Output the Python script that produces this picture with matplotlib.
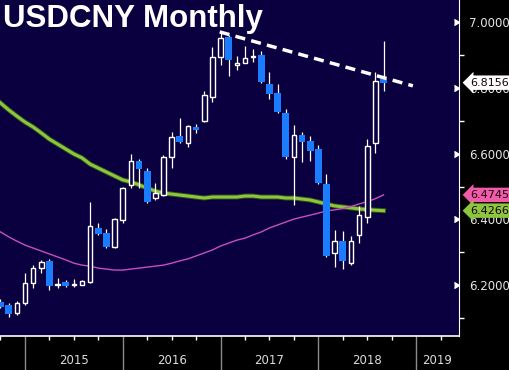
'''
USDCNY monthly candlestick chart (Bloomberg style)
'''

import matplotlib
matplotlib.use("Agg")
import matplotlib.pyplot as plt
import matplotlib.patheffects as pe
import numpy as np

# Monthly candles, Sep 2014 .. Aug 2018
months = ["2014-09", "2014-10", "2014-11", "2014-12",
          "2015-01", "2015-02", "2015-03", "2015-04", "2015-05", "2015-06",
          "2015-07", "2015-08", "2015-09", "2015-10", "2015-11", "2015-12",
          "2016-01", "2016-02", "2016-03", "2016-04", "2016-05", "2016-06",
          "2016-07", "2016-08", "2016-09", "2016-10", "2016-11", "2016-12",
          "2017-01", "2017-02", "2017-03", "2017-04", "2017-05", "2017-06",
          "2017-07", "2017-08", "2017-09", "2017-10", "2017-11", "2017-12",
          "2018-01", "2018-02", "2018-03", "2018-04", "2018-05", "2018-06",
          "2018-07", "2018-08"]
opens = [6.149, 6.140, 6.116, 6.146, 6.207, 6.252, 6.274, 6.201, 6.210, 6.201,
         6.201, 6.210, 6.374, 6.359, 6.316, 6.398, 6.505, 6.578, 6.547, 6.465,
         6.474, 6.590, 6.653, 6.632, 6.681, 6.699, 6.772, 6.894, 6.955, 6.869,
         6.875, 6.894, 6.900, 6.812, 6.784, 6.723, 6.590, 6.657, 6.638, 6.614,
         6.508, 6.298, 6.334, 6.267, 6.353, 6.407, 6.632, 6.827]
highs = [6.158, 6.146, 6.152, 6.237, 6.261, 6.277, 6.280, 6.222, 6.216, 6.219,
         6.215, 6.453, 6.389, 6.371, 6.405, 6.498, 6.599, 6.584, 6.556, 6.511,
         6.596, 6.666, 6.708, 6.687, 6.690, 6.790, 6.924, 6.970, 6.962, 6.897,
         6.927, 6.918, 6.912, 6.848, 6.812, 6.736, 6.687, 6.666, 6.653, 6.626,
         6.538, 6.368, 6.365, 6.350, 6.441, 6.644, 6.848, 6.942]
lows = [6.131, 6.103, 6.109, 6.140, 6.191, 6.237, 6.185, 6.191, 6.195, 6.195,
        6.200, 6.208, 6.354, 6.314, 6.312, 6.389, 6.495, 6.495, 6.450, 6.459,
        6.471, 6.556, 6.632, 6.620, 6.663, 6.697, 6.757, 6.869, 6.836, 6.854,
        6.874, 6.878, 6.815, 6.766, 6.724, 6.584, 6.444, 6.574, 6.578, 6.508,
        6.286, 6.255, 6.249, 6.261, 6.328, 6.389, 6.602, 6.790]
closes = [6.134, 6.112, 6.146, 6.207, 6.252, 6.271, 6.198, 6.204, 6.198, 6.204,
          6.213, 6.380, 6.356, 6.316, 6.401, 6.495, 6.578, 6.553, 6.453, 6.480,
          6.590, 6.650, 6.635, 6.684, 6.672, 6.778, 6.894, 6.950, 6.884, 6.875,
          6.891, 6.897, 6.818, 6.781, 6.726, 6.590, 6.657, 6.635, 6.608, 6.511,
          6.289, 6.334, 6.274, 6.334, 6.413, 6.623, 6.821, 6.8156]

# Moving averages (green = long, magenta = short)
ma_green = [6.754, 6.733, 6.714, 6.696, 6.681, 6.663, 6.644, 6.629, 6.614, 6.599,
            6.587, 6.568, 6.556, 6.544, 6.532, 6.520, 6.514, 6.505, 6.495, 6.486,
            6.480, 6.477, 6.474, 6.471, 6.468, 6.465, 6.468, 6.468, 6.468, 6.468,
            6.471, 6.471, 6.468, 6.468, 6.468, 6.465, 6.465, 6.462, 6.459, 6.453,
            6.447, 6.441, 6.438, 6.435, 6.432, 6.430, 6.428, 6.4266]
ma_pink = [6.362, 6.347, 6.334, 6.322, 6.313, 6.304, 6.295, 6.286, 6.277, 6.267,
           6.261, 6.258, 6.252, 6.249, 6.246, 6.246, 6.249, 6.252, 6.255, 6.258,
           6.261, 6.267, 6.274, 6.280, 6.289, 6.298, 6.307, 6.319, 6.328, 6.337,
           6.343, 6.353, 6.362, 6.374, 6.383, 6.392, 6.401, 6.407, 6.413, 6.419,
           6.426, 6.429, 6.433, 6.439, 6.447, 6.454, 6.463, 6.4745]

# Resistance trend line (month index, level)
trend_x = [26.9, 50.6]
trend_y = [6.970, 6.806]

# Axis labels
y_ticks = [6.2, 6.4, 6.6, 6.8, 7.0]
y_minor = [6.1, 6.3, 6.5, 6.7, 6.9]
years = ["2015", "2016", "2017", "2018", "2019"]
year_pos = [9, 21, 33, 45, 53.6]
year_ends = [3, 15, 27, 39, 51]

# Last value tags
tag_vals = [6.8156, 6.4745, 6.4266]
tag_colors = ["#ffffff", "#f15ca8", "#8cc63f"]

# Colours
navy = "#0a0040"
blue = "#1a7cff"

###########################################

fig = plt.figure(figsize=(5.1, 3.7), dpi=100)
fig.patch.set_facecolor("black")
ax = fig.add_axes([0, 34 / 370, 459 / 510, 336 / 370])
ax.set_facecolor(navy)

x = np.arange(len(months))
opens = np.array(opens)
closes = np.array(closes)
up = closes >= opens

# moving averages and trend line
ax.plot(x, ma_green, color="#8cc63f", lw=2.2, zorder=2,
        path_effects=[pe.Stroke(linewidth=3.6, foreground="#33501a"), pe.Normal()])
ax.plot(x, ma_pink, color="#c64fc0", lw=1.0, zorder=2)
ax.plot(trend_x, trend_y, color="white", lw=2.5, ls=(0, (2.9, 1.8)), zorder=5)

# wicks
ax.vlines(x, lows, highs, color="white", lw=0.9, zorder=3)

# bodies
body_lo = np.minimum(opens, closes)
body_h = np.maximum(np.abs(closes - opens), 0.002)
ax.bar(x[~up], body_h[~up], bottom=body_lo[~up], width=0.82,
       color=blue, edgecolor="none", zorder=4)
ax.bar(x[up], body_h[up], bottom=body_lo[up], width=0.56,
       facecolor=navy, edgecolor="white", lw=1.0, zorder=4)

ax.set_xlim(-0.06, 56.26)
ax.set_ylim(6.0456, 7.0669)

# spines
for s in ["top", "left"]:
    ax.spines[s].set_visible(False)
ax.spines["right"].set_color("white")
ax.spines["bottom"].set_color("white")
ax.spines["bottom"].set_linewidth(1.2)

# right price axis
ax.yaxis.tick_right()
ax.set_yticks(y_ticks)
ax.set_yticklabels([f"{v:.4f}" for v in y_ticks])
ax.set_yticks(y_minor, minor=True)
ax.tick_params(axis="y", which="major", length=0, pad=7,
               labelcolor="#e6e6e6", labelsize=8.5)
ax.tick_params(axis="y", which="minor", length=3.5, color="white", width=1)
ax.plot(np.ones(len(y_ticks)), y_ticks, ls="none", marker=5, ms=5,
        color="white", transform=ax.get_yaxis_transform(), clip_on=False)

# bottom time axis
quarters = np.arange(0, 57, 3)
ax.set_xticks(year_ends)
ax.set_xticks([q for q in quarters if q not in year_ends], minor=True)
ax.set_xticklabels([])
ax.tick_params(axis="x", which="major", length=25, color="#8a8a8a", width=1)
ax.tick_params(axis="x", which="minor", length=3, color="white", width=1)
for yr, p in zip(years, year_pos):
    ax.text(p, -0.072, yr, transform=ax.get_xaxis_transform(), ha="center",
            va="center", color="#dcdcdc", fontsize=8.5, clip_on=False)

# last value tags
for v, c in zip(tag_vals, tag_colors):
    ax.text(1.025, v, f"{v:.4f}", transform=ax.get_yaxis_transform(),
            ha="left", va="center", fontsize=8, color="#1a0010",
            bbox=dict(boxstyle="larrow,pad=0.2", fc=c, ec="none"),
            clip_on=False, zorder=10)

# title
fig.text(3 / 510, 1 - 4 / 370, "USDCNY Monthly", ha="left", va="top",
         color="white", fontsize=22.5, fontweight="bold",
         family="Liberation Sans")

fig.savefig("out.png", dpi=100, facecolor=fig.get_facecolor())
